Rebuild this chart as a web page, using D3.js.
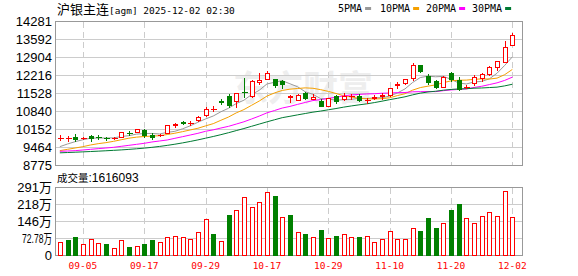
<!DOCTYPE html>
<html>
<head>
<meta charset="utf-8">
<script src="https://cdn.jsdelivr.net/npm/d3@7"></script>
<style>
body { margin: 0; background: #fff; }
svg { display: block; }
</style>
</head>
<body>
<svg id="chart" width="578" height="276"></svg>
<script>
// trading days, 2025-09-02 .. 2025-12-02
var dates = ["09-02","09-03","09-04","09-05","09-08","09-09","09-10","09-11","09-12","09-15",
             "09-16","09-17","09-18","09-19","09-22","09-23","09-24","09-25","09-26","09-29",
             "09-30","10-09","10-10","10-13","10-14","10-15","10-16","10-17","10-20","10-21",
             "10-22","10-23","10-24","10-27","10-28","10-29","10-30","10-31","11-03","11-04",
             "11-05","11-06","11-07","11-10","11-11","11-12","11-13","11-14","11-17","11-18",
             "11-19","11-20","11-21","11-24","11-25","11-26","11-27","11-28","12-01","12-02"];

var open  = [9812,9790,9858,9790,9884,9858,9807,9812,9858,10011,
             10037,10114,9935,9922,10011,10292,10407,10390,10496,10674,
             10900,11210,11414,11210,11580,11414,11962,12051,12051,11975,
             11380,11260,11541,11312,11235,11031,11414,11312,11400,11414,
             11245,11350,11412,11452,11847,11923,12089,12599,12178,11987,
             11771,12280,12025,11745,11898,12089,12255,12535,12727,13351];
var high  = [9922,9871,9960,9833,9935,9922,9858,9858,10040,10075,
             10152,10164,9986,9960,10305,10381,10470,10470,10649,10993,
             11031,11299,11490,11541,12102,12025,12280,12369,12064,12025,
             11440,11490,11580,11490,11286,11325,11452,11516,11490,11490,
             11337,11440,11516,11720,11936,12051,12663,12610,12255,12025,
             12178,12344,12127,11834,12216,12306,12561,12739,13517,13810];
var low   = [9718,9706,9706,9757,9706,9757,9731,9782,9858,9922,
             10024,9858,9782,9900,10000,10241,10330,10317,10458,10649,
             10853,11095,10980,10980,11362,11362,11872,12051,11770,11732,
             11196,11260,11286,11300,11031,11020,11133,11260,11286,11222,
             11133,11286,11286,11414,11732,11860,12025,12344,11872,11707,
             11771,12000,11643,11707,11834,11999,12216,12408,12727,13351];
var close = [9820,9795,9782,9800,9807,9845,9795,9820,10037,9986,
             10139,9910,9833,9935,10292,10343,10394,10400,10623,10920,
             10910,11197,11082,11516,11555,11987,12025,12280,11850,11855,
             11395,11452,11325,11362,11031,11325,11222,11414,11420,11260,
             11270,11362,11440,11707,11860,12051,12599,12382,11962,11745,
             12127,12051,11669,11771,12127,12242,12535,12739,13275,13759];

var volume = [540000,640000,770000,460000,670000,500000,470000,290000,630000,340000,
              370000,470000,640000,540000,760000,800000,760000,680000,970000,1530000,
              900000,590000,1710000,1930000,2470000,2040000,2250000,2680000,2530000,1610000,
              1710000,970000,900000,760000,1070000,710000,810000,880000,760000,770000,
              800000,540000,670000,1010000,670000,670000,1140000,1030000,1580000,1160000,
              1360000,1930000,2180000,1570000,1360000,1660000,1830000,1660000,2740000,1616093];

var ma5  = [9476,9578,9667,9740,9801,9806,9806,9813,9861,9897,
            9955,9978,9981,9961,10022,10063,10159,10273,10410,10536,
            10649,10810,10946,11125,11252,11467,11633,11873,11939,11999,
            11881,11766,11575,11478,11313,11299,11253,11271,11282,11328,
            11317,11345,11350,11408,11528,11684,11931,12120,12171,12148,
            12163,12053,11911,11873,11949,11972,12069,12283,12584,12910];
var ma10 = [9323,9374,9425,9476,9540,9591,9629,9680,9740,9800,
            9840,9865,9880,9895,9940,9990,10050,10115,10180,10270,
            10356,10485,10610,10768,10894,11058,11222,11410,11532,11626,
            11674,11700,11724,11709,11656,11590,11510,11423,11380,11321,
            11308,11299,11311,11345,11428,11501,11638,11735,11790,11838,
            11924,11992,12016,12022,12049,12068,12061,12097,12229,12430];
var ma20 = [9298,9310,9323,9349,9374,9400,9425,9451,9489,9527,
            9565,9604,9655,9693,9731,9795,9858,9922,9986,10064,
            10119,10189,10254,10340,10427,10534,10646,10769,10859,10953,
            11015,11093,11167,11239,11275,11324,11366,11417,11456,11474,
            11491,11500,11518,11527,11542,11546,11574,11579,11585,11580,
            11616,11646,11664,11684,11739,11785,11850,11916,12010,12134];
var ma30 = [9240,9252,9264,9277,9290,9304,9319,9335,9352,9372,
            9395,9420,9450,9485,9525,9570,9620,9675,9735,9800,
            9865,9935,10010,10090,10170,10255,10340,10425,10505,10585,
            10637,10692,10744,10796,10837,10886,10934,10987,11033,11075,
            11113,11161,11215,11274,11326,11383,11457,11523,11567,11595,
            11635,11664,11684,11692,11711,11720,11736,11752,11800,11863];

var priceTicks = [8775, 9464, 10152, 10840, 11528, 12216, 12904, 13592, 14281];
var volTicks = [0, 727800, 1456000, 2184000, 2911200];
var volTickLabels = ["0", "72.78万", "146万", "218万", "291万"];
var dateTicks = ["09-05","09-17","09-29","10-17","10-29","11-10","11-20","12-02"];
var maNames = ["5PMA", "10PMA", "20PMA", "30PMA"];

var RED = "#ff0000", GREEN = "#008000";
var maColors = ["#999999", "#f5a000", "#ff00ff", "#007a33"];

var svg = d3.select("#chart");

var left = 55, right = 522;
var mainTop = 21, mainBottom = 165;
var volTop = 187, volBottom = 255;

var x = d3.scaleBand().domain(dates).range([56, 516.2]);
var bw = x.bandwidth();
var yP = d3.scaleLinear().domain([8775, 14281]).range([mainBottom, mainTop]);
var yV = d3.scaleLinear().domain([0, 2911200]).range([volBottom, volTop]);

function cx(i) { return Math.round(x(dates[i]) + bw / 2) + 0.5; }
function px(v) { return Math.round(v) + 0.5; }

// ---- watermark
svg.append("text")
    .attr("x", 233).attr("y", 101)
    .attr("font-family", "Noto Sans CJK SC")
    .attr("font-size", 35).attr("font-weight", "bold")
    .attr("fill", "#eeeeee")
    .text("东方财富");

// ---- grid
var grid = svg.append("g").attr("shape-rendering", "crispEdges");
grid.selectAll(".hp").data(priceTicks.slice(1, -1)).join("line")
    .attr("x1", left).attr("x2", right)
    .attr("y1", d => px(yP(d))).attr("y2", d => px(yP(d)))
    .attr("stroke", "#cccccc");
grid.selectAll(".hv").data(volTicks.slice(1, -1)).join("line")
    .attr("x1", left).attr("x2", right)
    .attr("y1", d => px(yV(d))).attr("y2", d => px(yV(d)))
    .attr("stroke", "#cccccc");
dateTicks.forEach(function(d) {
    var xx = cx(dates.indexOf(d));
    [[mainTop, mainBottom], [volTop, volBottom]].forEach(function(r) {
        grid.append("line")
            .attr("x1", xx).attr("x2", xx)
            .attr("y1", r[0] + 1).attr("y2", r[1])
            .attr("stroke", "#cccccc")
            .attr("stroke-dasharray", "6,4");
    });
});

// ---- frames
[[mainTop, mainBottom], [volTop, volBottom]].forEach(function(r) {
    svg.append("rect")
        .attr("x", left + 0.5).attr("y", r[0] + 0.5)
        .attr("width", right - left).attr("height", r[1] - r[0])
        .attr("fill", "none").attr("stroke", "#999999")
        .attr("shape-rendering", "crispEdges");
});

// ---- moving averages
var maLine = d3.line()
    .x((d, i) => x(dates[i]) + bw / 2)
    .y(d => yP(d));
[ma5, ma10, ma20, ma30].forEach(function(s, k) {
    svg.append("path")
        .attr("d", maLine(s))
        .attr("fill", "none")
        .attr("stroke", maColors[k])
        .attr("stroke-width", 1);
});

// ---- candles
var cg = svg.append("g").attr("shape-rendering", "crispEdges");
dates.forEach(function(d, i) {
    var up = close[i] >= open[i];
    var col = up ? RED : GREEN;
    var xx = cx(i);
    var top = Math.round(yP(Math.max(open[i], close[i])));
    var bot = Math.round(yP(Math.min(open[i], close[i])));
    cg.append("line").attr("x1", xx).attr("x2", xx)
        .attr("y1", Math.round(yP(high[i]))).attr("y2", top)
        .attr("stroke", col);
    cg.append("line").attr("x1", xx).attr("x2", xx)
        .attr("y1", bot).attr("y2", Math.round(yP(low[i])) + 1)
        .attr("stroke", col);
    if (bot - top < 1) {
        cg.append("line")
            .attr("x1", xx - 2.5).attr("x2", xx + 3.5)
            .attr("y1", top + 0.5).attr("y2", top + 0.5)
            .attr("stroke", col);
    } else {
        cg.append("rect")
            .attr("x", xx - 2).attr("y", top + 0.5)
            .attr("width", 4).attr("height", bot - top)
            .attr("fill", up ? "#fff" : GREEN)
            .attr("stroke", col);
    }
});

// ---- volume bars (colour vs previous close)
var vg = svg.append("g").attr("shape-rendering", "crispEdges");
vg.selectAll("rect").data(volume).join("rect")
    .attr("x", (d, i) => cx(i) - 2)
    .attr("y", d => Math.round(yV(d)) + 0.5)
    .attr("width", 4)
    .attr("height", d => volBottom - Math.round(yV(d)))
    .attr("fill", (d, i) => (i == 0 || close[i] >= close[i - 1]) ? "#fff" : GREEN)
    .attr("stroke", (d, i) => (i == 0 || close[i] >= close[i - 1]) ? RED : GREEN);

// ---- axes
var yAxis = svg.append("g")
    .attr("transform", "translate(" + left + ",0)")
    .call(d3.axisLeft(yP).tickValues(priceTicks).tickSize(0).tickPadding(3).tickFormat(d3.format("d")));
var vAxis = svg.append("g")
    .attr("transform", "translate(" + left + ",0)")
    .call(d3.axisLeft(yV).tickValues(volTicks).tickSize(0).tickPadding(3)
        .tickFormat((d, i) => volTickLabels[i]));
[yAxis, vAxis].forEach(function(a) {
    a.select(".domain").remove();
    a.selectAll("text")
        .attr("font-family", "Liberation Sans, Arial, Noto Sans CJK SC")
        .attr("font-size", 13)
        .attr("fill", "#000");
});
vAxis.selectAll("text")
    .filter(d => d > 0 && d < 1000000)
    .attr("textLength", 30)
    .attr("lengthAdjust", "spacingAndGlyphs");

var xAxis = svg.append("g")
    .attr("transform", "translate(0," + (volBottom + 4) + ")")
    .call(d3.axisBottom(x).tickValues(dateTicks).tickSize(0).tickPadding(3));
xAxis.select(".domain").remove();
xAxis.selectAll("text")
    .attr("font-family", "DejaVu Sans Mono")
    .attr("font-size", 9.5)
    .attr("fill", RED);

// ---- title
var title = svg.append("text").attr("x", 57).attr("y", 14);
title.append("tspan")
    .attr("font-family", "Noto Sans CJK SC").attr("font-size", 13)
    .text("沪银主连");
title.append("tspan")
    .attr("font-family", "DejaVu Sans Mono").attr("font-size", 9.5)
    .text("[agm] 2025-12-02 02:30");

// ---- legend
var legendX = [338, 380, 426, 472];
maNames.forEach(function(n, k) {
    var t = svg.append("text")
        .attr("x", legendX[k]).attr("y", 12)
        .attr("font-family", "DejaVu Sans Mono")
        .attr("font-size", 10)
        .attr("fill", "#000")
        .text(n);
    var w = t.node().getComputedTextLength();
    svg.append("rect")
        .attr("x", legendX[k] + w + 3).attr("y", 7)
        .attr("width", 6).attr("height", 3)
        .attr("fill", maColors[k]);
});

// ---- volume caption
var cap = svg.append("text").attr("x", 57).attr("y", 182);
cap.append("tspan")
    .attr("font-family", "Noto Sans CJK SC").attr("font-size", 10.5)
    .text("成交量");
cap.append("tspan")
    .attr("font-family", "Liberation Sans").attr("font-size", 12)
    .text(":" + volume[volume.length - 1]);
</script>
</body>
</html>
